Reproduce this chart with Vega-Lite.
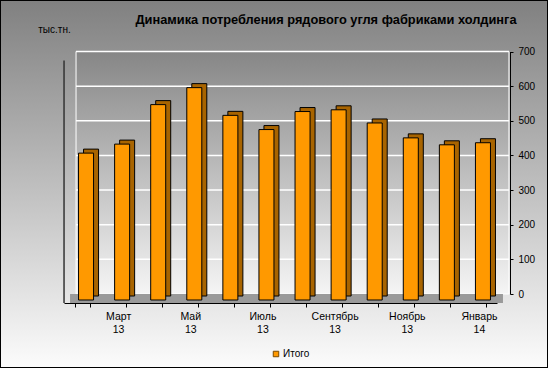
{
  "$schema": "https://vega.github.io/schema/vega-lite/v6.json",
  "width": 548,
  "height": 368,
  "autosize": {"type": "none"},
  "padding": 0,
  "config": {
    "font": "Liberation Sans",
    "view": {
      "fill": {"gradient": "linear", "x1": 0, "y1": 0, "x2": 0, "y2": 1,
        "stops": [{"offset": 0, "color": "#808080"}, {"offset": 1, "color": "#fcfcfc"}]},
      "stroke": "#000",
      "strokeWidth": 2
    }
  },
  "title": {
    "text": "Динамика потребления рядового угля фабриками холдинга",
    "anchor": "middle",
    "frame": "group",
    "dx": 52,
    "offset": -27,
    "fontSize": 12.8,
    "fontWeight": "bold",
    "color": "#000",
    "font": "Liberation Sans"
  },
  "datasets": {
    "bars": [
      {"month": "Февраль 13", "value": 424},
      {"month": "Март 13", "value": 450},
      {"month": "Апрель 13", "value": 564},
      {"month": "Май 13", "value": 613},
      {"month": "Июнь 13", "value": 533},
      {"month": "Июль 13", "value": 492},
      {"month": "Август 13", "value": 544},
      {"month": "Сентябрь 13", "value": 549},
      {"month": "Октябрь 13", "value": 511},
      {"month": "Ноябрь 13", "value": 468},
      {"month": "Декабрь 13", "value": 448},
      {"month": "Январь 14", "value": 454}
    ],
    "grid": [
      {"g": 100}, {"g": 200}, {"g": 300}, {"g": 400}, {"g": 500}, {"g": 600}, {"g": 700}
    ],
    "one": [{}]
  },
  "data": {"name": "bars"},
  "layer": [
    {
      "data": {"name": "one"},
      "mark": {"type": "rect", "xOffset": 1.5, "x2Offset": 22.5,
        "fill": {"gradient": "linear", "x1": 0, "y1": 0, "x2": 0, "y2": 1,
          "stops": [{"offset": 0, "color": "#868686"}, {"offset": 1, "color": "#f5f5f5"}]},
        "stroke": "#ffffff", "strokeWidth": 1},
      "encoding": {
        "x": {"datum": "Февраль 13", "type": "nominal", "bandPosition": 0,
          "scale": {"domain": ["Февраль 13","Март 13","Апрель 13","Май 13","Июнь 13","Июль 13","Август 13","Сентябрь 13","Октябрь 13","Ноябрь 13","Декабрь 13","Январь 14"], "range": [64, 497], "paddingInner": 0.584, "paddingOuter": 0.292}},
        "x2": {"datum": "Январь 14", "bandPosition": 1},
        "y": {"datum": 0, "type": "quantitative",
          "scale": {"domain": [0, 700], "range": [294, 51.5], "nice": false, "zero": true}},
        "y2": {"datum": 700}
      }
    },
    {
      "data": {"name": "grid"},
      "mark": {"type": "rule", "color": "#ffffff", "strokeWidth": 1.5, "xOffset": 1.5, "x2Offset": 22.5},
      "encoding": {
        "x": {"datum": "Февраль 13", "type": "nominal", "bandPosition": 0},
        "x2": {"datum": "Январь 14", "bandPosition": 1},
        "y": {"field": "g", "type": "quantitative"}
      }
    },
    {
      "data": {"name": "one"},
      "mark": {"type": "rect", "fill": "#9a9a9a", "xOffset": -4.5, "x2Offset": 16.5, "yOffset": 9, "y2Offset": 0},
      "encoding": {
        "x": {"datum": "Февраль 13", "type": "nominal", "bandPosition": 0},
        "x2": {"datum": "Январь 14", "bandPosition": 1},
        "y": {"datum": 0, "type": "quantitative"},
        "y2": {"datum": 0}
      }
    },
    {
      "data": {"name": "one"},
      "mark": {"type": "rule", "color": "#333333", "strokeWidth": 1.5, "xOffset": -10.5, "yOffset": 9, "y2Offset": 9},
      "encoding": {
        "x": {"datum": "Февраль 13", "type": "nominal", "bandPosition": 0},
        "y": {"datum": 0, "type": "quantitative"},
        "y2": {"datum": 700}
      }
    },
    {
      "mark": {"type": "bar", "fill": "#a86400", "stroke": "#000", "strokeWidth": 1, "xOffset": 9, "x2Offset": 9, "yOffset": 2, "y2Offset": 2},
      "encoding": {
        "x": {"field": "month", "type": "nominal"},
        "y": {"field": "value", "type": "quantitative"}
      }
    },
    {
      "mark": {"type": "bar", "stroke": "#000", "strokeWidth": 1, "xOffset": 4, "x2Offset": 4, "yOffset": 6, "y2Offset": 6},
      "encoding": {
        "x": {"field": "month", "type": "nominal",
          "axis": {"orient": "bottom", "offset": -65, "title": null, "zindex": 1,
            "tickBand": "extent", "tickSize": 4, "tickColor": "#000", "domainColor": "#000",
            "labelAngle": 0, "labelAlign": "center", "labelFontSize": 10.5, "labelColor": "#000", "labelPadding": 4,
            "labelLineHeight": 13, "labelBaseline": "top",
            "labelExpr": "indexof(['Март 13','Май 13','Июль 13','Сентябрь 13','Ноябрь 13','Январь 14'], datum.value) >= 0 ? split(datum.value, ' ') : ''"}},
        "y": {"field": "value", "type": "quantitative",
          "axis": {"orient": "right", "offset": -38, "grid": false, "zindex": 1,
            "values": [0, 100, 200, 300, 400, 500, 600, 700],
            "domainColor": "#000", "tickColor": "#000", "tickSize": 3,
            "labelFontSize": 10, "labelColor": "#000", "labelPadding": 5,
            "title": "тыс.тн.", "titleAngle": 0, "titleX": -456, "titleY": 29,
            "titleAlign": "center", "titleBaseline": "middle",
            "titleFontSize": 10, "titleFontWeight": "normal", "titleColor": "#000"}},
        "color": {"datum": "Итого", "type": "nominal",
          "scale": {"range": ["#ff9900"]},
          "legend": {"orient": "none", "legendX": 271, "legendY": 349, "title": null,
            "symbolType": "square", "symbolSize": 30, "symbolStrokeColor": "#7a4a00",
            "symbolStrokeWidth": 1, "labelFontSize": 10, "labelColor": "#000",
            "labelOffset": 2, "padding": 0}}
      }
    }
  ]
}
